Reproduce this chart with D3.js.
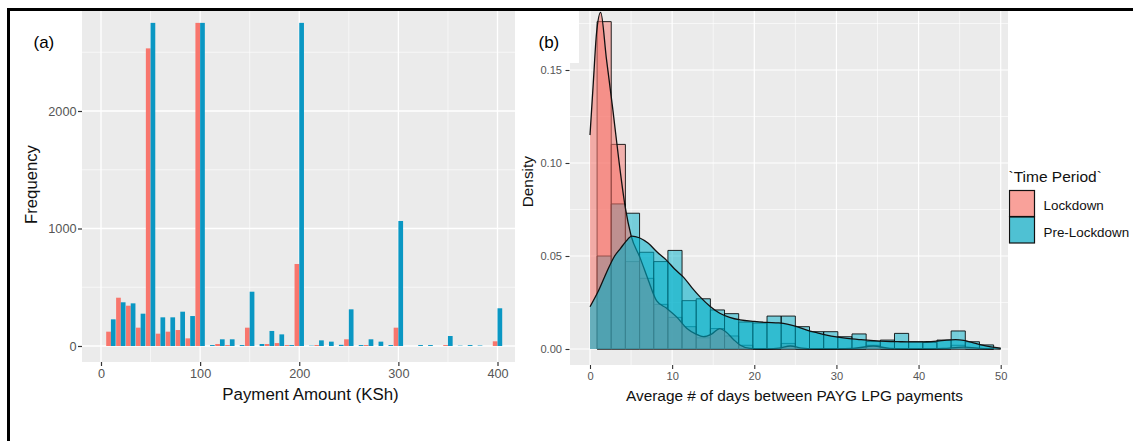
<!DOCTYPE html>
<html><head><meta charset="utf-8">
<script src="https://cdn.jsdelivr.net/npm/d3@7"></script>
<style>
html,body{margin:0;padding:0;background:#fff;}
text{font-family:"Liberation Sans",Arial,sans-serif;}
</style></head>
<body><svg id="c" width="1133" height="441"></svg>
<script>
// ---------- DATA ----------
// Panel (a): payment amount bins (KSh), dodge histogram
const payBins = [10,20,30,40,50,60,70,80,90,100,110,120,130,140,150,160,170,180,190,200,
                 210,220,230,240,250,260,270,280,290,300,310,320,330,340,350,360,370,380,390,400];
const lockdownFreq = [122,411,343,156,2533,105,122,136,65,2750,0,17,8,0,156,0,17,25,8,698,
                      0,8,0,0,57,0,8,0,0,156,0,0,0,0,8,0,0,0,0,40];
const preLockdownFreq = [227,372,363,275,2750,244,244,292,255,2750,8,57,57,8,462,17,128,99,8,2750,
                         3,48,37,10,312,8,57,37,8,1064,0,8,8,0,85,3,8,4,0,321];
const xTicksA = [0,100,200,300,400];
const yTicksA = [0,1000,2000];

// Panel (b): histogram of average days between payments (density)
const histBreaks = [0.862,2.586,4.310,6.034,7.759,9.483,11.207,12.931,14.655,16.379,18.103,19.828,
                    21.552,23.276,25.000,26.724,28.448,30.172,31.897,33.621,35.345,37.069,38.793,
                    40.517,42.241,43.966,45.690,47.414,49.138];
const lockdownHist = [0.176,0.110,0.047,0.038,0.024,0.017,0.012,0.006,0.011,0.007,0.002,0,0,0.003,
                      0,0,0,0,0,0.002,0,0,0,0,0,0.002,0,0];
const preLockdownHist = [0.050,0.078,0.073,0.052,0.047,0.053,0.026,0.027,0.021,0.019,0.0145,0.014,
                         0.0177,0.0177,0.012,0.0093,0.0093,0.0066,0.0081,0.004,0.0048,0.0084,0.0039,
                         0.0035,0.0048,0.0097,0.0039,0.0022];
const lockdownDensX = [0,0.4,0.8,1.3,2.0,2.8,3.5,4.3,5.0,6.1,7.1,8.1,9.3,10.6,11.8,12.9,13.8,14.8,15.8,
                       16.6,17.5,18.3,19.5,21,23,24.4,25.8,28,32,34.5,36.5,40,43,45.5,48,50];
const lockdownDensY = [0.115,0.143,0.170,0.181,0.156,0.128,0.102,0.076,0.061,0.049,0.037,0.026,0.022,
                       0.017,0.011,0.008,0.0066,0.008,0.011,0.009,0.005,0.002,0.0003,0,0.0005,0.0016,
                       0.0005,0,0.0003,0.0016,0.0003,0,0.0003,0.001,0.0002,0];
const preDensX = [0,1,2,3,3.7,4.4,5.1,6,7.1,8.2,9.3,10.3,11.4,12.4,13.4,14.6,15.8,17,18.3,20,21.5,23,24,
                  25.2,26.4,27.6,28.8,30,31.3,33,34.5,36,37.8,39.5,41,42.3,43.4,44.5,45.5,46.5,47.5,48.8,50];
const preDensY = [0.0227,0.031,0.041,0.050,0.054,0.058,0.0607,0.0598,0.0568,0.052,0.0478,0.043,0.0385,
                  0.033,0.028,0.023,0.0192,0.017,0.0156,0.0148,0.0143,0.014,0.0134,0.012,0.0102,0.0088,
                  0.0075,0.0065,0.0057,0.005,0.0045,0.0041,0.0039,0.0038,0.0039,0.0043,0.0048,0.005,
                  0.0046,0.0035,0.0023,0.0011,0.0004];
const xTicksB = [0,10,20,30,40,50];
const yTicksB = [0,0.05,0.10,0.15];
const groups = ["Lockdown","Pre-Lockdown"];

// ---------- STYLE ----------
const RED_A = "#F8766D", BLUE_A = "#0A97C3";
const RED_B = "#F8766D", BLUE_B = "#00B0CA";
const PANEL = "#EBEBEB", TXT = "#555555", TICK = "#333333";

const svg = d3.select("#c");
svg.append("rect").attr("width",1133).attr("height",441).attr("fill","#fff");

// ================= PANEL (a) =================
const pa = {x0:82, x1:515, y0:11, y1:362};
const xA = d3.scaleLinear().domain([0,400]).range([101,497.5]);
const yA = d3.scaleLinear().domain([0,2000]).range([346,111]);
const gA = svg.append("g");
gA.append("rect").attr("x",pa.x0).attr("y",pa.y0).attr("width",pa.x1-pa.x0).attr("height",pa.y1-pa.y0).attr("fill",PANEL);
[50,150,250,350].forEach(v=>gA.append("line").attr("x1",xA(v)).attr("x2",xA(v)).attr("y1",pa.y0).attr("y2",pa.y1).attr("stroke","#fff").attr("stroke-width",0.6));
[500,1500,2500].forEach(v=>gA.append("line").attr("y1",yA(v)).attr("y2",yA(v)).attr("x1",pa.x0).attr("x2",pa.x1).attr("stroke","#fff").attr("stroke-width",0.6));
xTicksA.forEach(v=>gA.append("line").attr("x1",xA(v)).attr("x2",xA(v)).attr("y1",pa.y0).attr("y2",pa.y1).attr("stroke","#fff").attr("stroke-width",1.3));
yTicksA.forEach(v=>gA.append("line").attr("y1",yA(v)).attr("y2",yA(v)).attr("x1",pa.x0).attr("x2",pa.x1).attr("stroke","#fff").attr("stroke-width",1.3));
const halfW = 4.75;
gA.selectAll("rect.red").data(payBins).join("rect").attr("class","red")
  .attr("x",(d)=>xA(d-halfW)).attr("width",(d)=>xA(d)-xA(d-halfW))
  .attr("y",(d,i)=>yA(lockdownFreq[i])).attr("height",(d,i)=>yA(0)-yA(lockdownFreq[i]))
  .attr("fill",RED_A);
gA.selectAll("rect.blue").data(payBins).join("rect").attr("class","blue")
  .attr("x",(d)=>xA(d)).attr("width",(d)=>xA(d+halfW)-xA(d))
  .attr("y",(d,i)=>yA(preLockdownFreq[i])).attr("height",(d,i)=>yA(0)-yA(preLockdownFreq[i]))
  .attr("fill",BLUE_A);
const axA_y = gA.append("g").attr("transform",`translate(${pa.x0},0)`)
  .call(d3.axisLeft(yA).tickValues(yTicksA).tickSize(4).tickPadding(1.5).tickFormat(d3.format("d")));
const axA_x = gA.append("g").attr("transform",`translate(0,${pa.y1})`)
  .call(d3.axisBottom(xA).tickValues(xTicksA).tickSize(4).tickPadding(3).tickFormat(d3.format("d")));
[axA_y,axA_x].forEach(a=>{a.select(".domain").remove();a.selectAll("line").attr("stroke",TICK).attr("stroke-width",1.2);
  a.selectAll("text").attr("fill",TXT).style("font-size","12.7px").style("font-family","Liberation Sans, Arial");});
gA.append("text").attr("x",310.5).attr("y",399.5).attr("text-anchor","middle").attr("fill","#111").style("font-size","16.9px").text("Payment Amount (KSh)");
gA.append("text").attr("transform","translate(36.5,184.5) rotate(-90)").attr("text-anchor","middle").attr("fill","#111").style("font-size","16.7px").text("Frequency");
gA.append("text").attr("x",33.5).attr("y",47.5).attr("fill","#000").style("font-size","17px").text("(a)");

// ================= PANEL (b) =================
const pb = {x0:570, x1:1008, y0:11, y1:365};
const xB = d3.scaleLinear().domain([0,50]).range([590,1000.7]);
const yB = d3.scaleLinear().domain([0,0.15]).range([349,70]);
const gB = svg.append("g");
svg.append("defs").append("clipPath").attr("id","clipB").append("rect")
  .attr("x",pb.x0).attr("y",pb.y0).attr("width",pb.x1-pb.x0).attr("height",pb.y1-pb.y0);
gB.append("rect").attr("x",pb.x0).attr("y",pb.y0).attr("width",pb.x1-pb.x0).attr("height",pb.y1-pb.y0).attr("fill",PANEL);
[5,15,25,35,45].forEach(v=>gB.append("line").attr("x1",xB(v)).attr("x2",xB(v)).attr("y1",pb.y0).attr("y2",pb.y1).attr("stroke","#fff").attr("stroke-width",0.6));
[0.025,0.075,0.125,0.175].forEach(v=>gB.append("line").attr("y1",yB(v)).attr("y2",yB(v)).attr("x1",pb.x0).attr("x2",pb.x1).attr("stroke","#fff").attr("stroke-width",0.6));
xTicksB.forEach(v=>gB.append("line").attr("x1",xB(v)).attr("x2",xB(v)).attr("y1",pb.y0).attr("y2",pb.y1).attr("stroke","#fff").attr("stroke-width",1.2));
yTicksB.forEach(v=>gB.append("line").attr("y1",yB(v)).attr("y2",yB(v)).attr("x1",pb.x0).attr("x2",pb.x1).attr("stroke","#fff").attr("stroke-width",1.2));

const plot = gB.append("g").attr("clip-path","url(#clipB)");
function barPath(i, v){
  const xa = xB(histBreaks[i]), xb = xB(histBreaks[i+1]), y0 = yB(0), y1 = yB(v);
  return `M${xa},${y0}V${y1}H${xb}V${y0}Z`;
}
const binIdx = d3.range(lockdownHist.length);
plot.selectAll("path.hr").data(binIdx).join("path").attr("class","hr")
  .attr("d",i=>barPath(i,lockdownHist[i])).attr("fill",RED_B).attr("fill-opacity",0.5)
  .attr("stroke","#000").attr("stroke-opacity",0.85).attr("stroke-width",1);
plot.selectAll("path.hb").data(binIdx).join("path").attr("class","hb")
  .attr("d",i=>barPath(i,preLockdownHist[i])).attr("fill",BLUE_B).attr("fill-opacity",0.5)
  .attr("stroke","#000").attr("stroke-opacity",0.85).attr("stroke-width",1);

const area = d3.area().x(d=>xB(d[0])).y0(yB(0)).y1(d=>yB(d[1])).curve(d3.curveMonotoneX);
const line = d3.line().x(d=>xB(d[0])).y(d=>yB(d[1])).curve(d3.curveMonotoneX);
const densL = lockdownDensX.map((x,i)=>[x,lockdownDensY[i]]);
const densP = preDensX.map((x,i)=>[x,preDensY[i]]);
plot.append("path").attr("d",area(densL)).attr("fill",RED_B).attr("fill-opacity",0.55);
plot.append("path").attr("d",line(densL)).attr("fill","none").attr("stroke","#111").attr("stroke-width",1.3);
plot.append("path").attr("d",area(densP)).attr("fill",BLUE_B).attr("fill-opacity",0.58);
plot.append("path").attr("d",line(densP)).attr("fill","none").attr("stroke","#111").attr("stroke-width",1.3);

const axB_y = gB.append("g").attr("transform",`translate(${pb.x0-0.5},0)`)
  .call(d3.axisLeft(yB).tickValues(yTicksB).tickSize(4).tickPadding(3.5).tickFormat(d3.format(".2f")));
const axB_x = gB.append("g").attr("transform",`translate(0,${pb.y1})`)
  .call(d3.axisBottom(xB).tickValues(xTicksB).tickSize(4).tickPadding(3).tickFormat(d3.format("d")));
[axB_y,axB_x].forEach(a=>{a.select(".domain").remove();a.selectAll("line").attr("stroke",TICK).attr("stroke-width",1.1);
  a.selectAll("text").attr("fill",TXT).style("font-size","11.1px").style("font-family","Liberation Sans, Arial");});
gB.append("text").attr("x",794.5).attr("y",400.5).attr("text-anchor","middle").attr("fill","#111").style("font-size","15.4px").text("Average # of days between PAYG LPG payments");
gB.append("text").attr("transform","translate(532.5,181.7) rotate(-90)").attr("text-anchor","middle").attr("fill","#111").style("font-size","15.4px").text("Density");

svg.append("rect").attr("x",515).attr("y",11).attr("width",64).attr("height",52).attr("fill","#fff");
svg.append("text").attr("x",538.5).attr("y",48).attr("fill","#000").style("font-size","17px").text("(b)");

const lg = svg.append("g");
lg.append("text").attr("x",1008.5).attr("y",181.5).attr("fill","#111").style("font-size","15.5px").text("`Time Period`");
const keyFill = ["#F9A19A","#4FC1D3"];
groups.forEach((g,i)=>{
  lg.append("rect").attr("x",1009.5).attr("y",190.5+i*26.5).attr("width",25).attr("height",26)
    .attr("fill",keyFill[i]).attr("stroke","#111").attr("stroke-width",1.2);
  lg.append("text").attr("x",1043.5).attr("y",210+i*27).attr("fill","#111").style("font-size","13.4px").text(g);
});

svg.append("rect").attr("x",7).attr("y",8).attr("width",1126).attr("height",3).attr("fill","#000");
svg.append("rect").attr("x",7).attr("y",8).attr("width",3).attr("height",433).attr("fill","#000");
</script></body></html>
